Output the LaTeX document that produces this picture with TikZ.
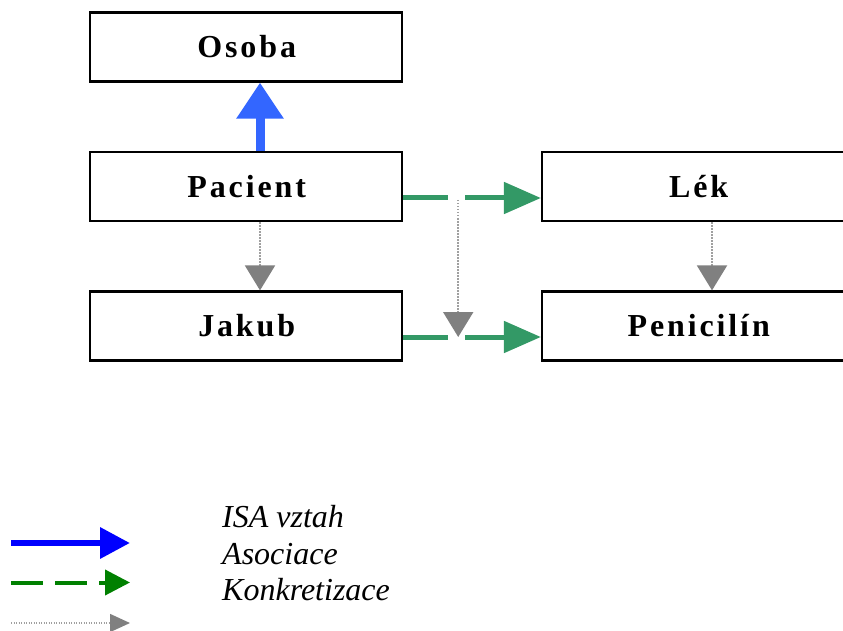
\documentclass[tikz,border=0pt]{standalone}
\usepackage{fontspec}
\setmainfont{Liberation Serif}
\usetikzlibrary{arrows.meta,positioning}

\definecolor{isablue}{HTML}{3366FF}
\definecolor{asocgreen}{HTML}{339966}
\definecolor{konkgray}{HTML}{808080}
\definecolor{dotgray}{HTML}{A0A0A0}

\newcommand{\boxtext}[1]{{\addfontfeature{LetterSpace=9}\hspace{0.045em}#1}}

\begin{document}
\begin{tikzpicture}[x=1pt, y=-1pt,
  box/.style={draw, line width=2.2pt, fill=white, minimum width=312pt, minimum height=69pt,
    inner sep=0pt, font=\fontsize{32}{32}\selectfont\bfseries},
  isa/.style={isablue, line width=9pt, -{Triangle[length=36pt,width=45pt]}},
  asoc/.style={asocgreen, line width=5pt, dash pattern=on 45pt off 17pt, -{Triangle[length=37pt,width=31pt]}},
  konk/.style={dotgray, line width=2pt, dash pattern=on 1.5pt off 1.5pt, -{Triangle[length=25pt,width=30pt,color=konkgray]}},
  legtext/.style={anchor=base west, inner sep=0pt, font=\fontsize{32}{32}\selectfont\itshape}]
\path[use as bounding box, clip] (0,0) rectangle (843,631);

% tridy a instance
\node (osoba) [box] at (246,47) {\boxtext{Osoba}};
\node (pacient) [box] at (246,186.5) {\boxtext{Pacient}};
\node (jakub) [box] at (246,326) {\boxtext{Jakub}};
\node (lek) [box] at (698,186.5) {\boxtext{Lék}};
\node (penicilin) [box] at (698,326) {\boxtext{Penicilín}};

% vztahy
\draw[isa] ([xshift=14pt]pacient.north) -- ([xshift=14pt]osoba.south);
\draw[asoc] ([yshift=-11.5pt]pacient.east) -- coordinate[pos=0.4] (asoc1) ([yshift=-11.5pt]lek.west);
\draw[asoc] ([yshift=-11pt]jakub.east) -- coordinate[pos=0.4] (asoc2) ([yshift=-11pt]penicilin.west);
\draw[konk] ([xshift=14pt]pacient.south) -- ([xshift=14pt]jakub.north);
\draw[konk] ([xshift=14pt]lek.south) -- ([xshift=14pt]penicilin.north);
\draw[konk] ([yshift=-2pt]asoc1) -- (asoc2);

% legenda
\coordinate (l1a) at (11,543);
\coordinate (l1b) at (130,543);
\coordinate (l2a) at (11,582.5);
\coordinate (l2b) at (130,582.5);
\coordinate (l3a) at (11,623);
\coordinate (l3b) at (130,623);
\draw[blue, line width=6.5pt, -{Triangle[length=30pt,width=30pt]}] (l1a) -- (l1b);
\draw[green!50!black, line width=4pt, dash pattern=on 32pt off 12pt, -{Triangle[length=25pt,width=25pt]}] (l2a) -- (l2b);
\draw[dotgray, line width=1.5pt, dash pattern=on 1pt off 1.5pt, -{Triangle[length=20pt,width=18pt,color=konkgray]}] (l3a) -- (l3b);
\node (isa) [legtext] at (222,527) {ISA vztah};
\node (asociace) [legtext] at (222,564) {Asociace};
\node (konkretizace) [legtext] at (222,600) {Konkretizace};
\end{tikzpicture}
\end{document}
